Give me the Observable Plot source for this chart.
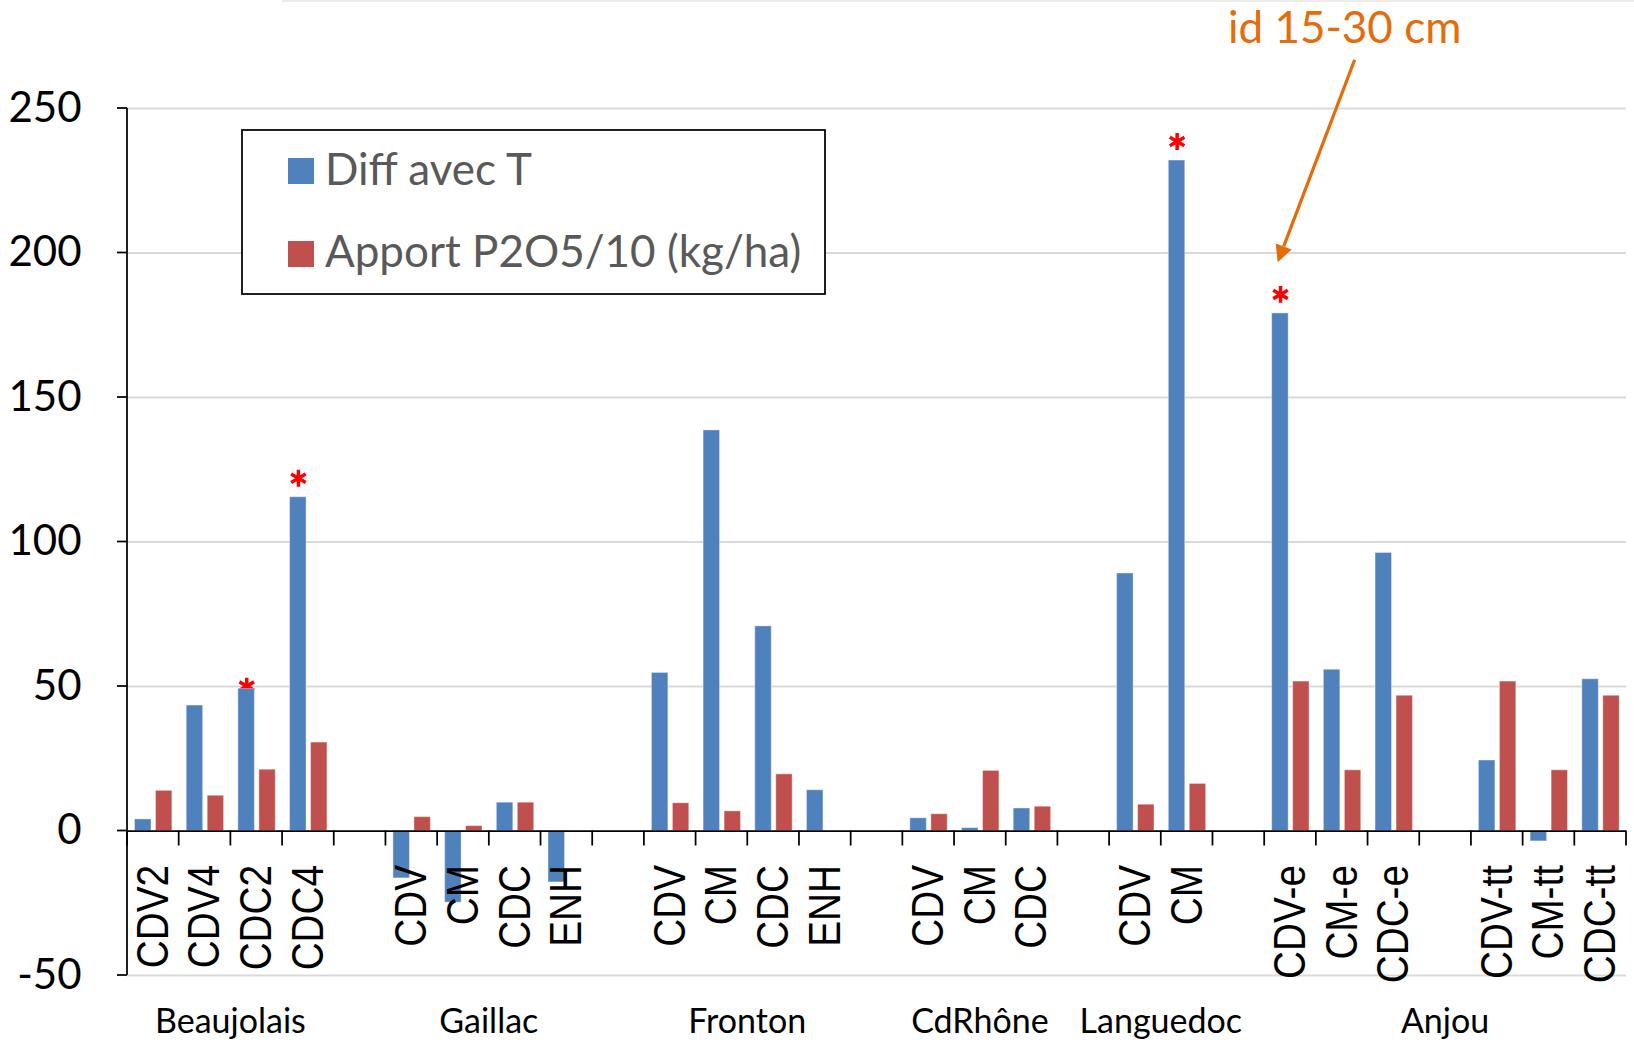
<!DOCTYPE html>
<html>
<head>
<meta charset="utf-8">
<script src="https://cdn.jsdelivr.net/npm/d3@7"></script>
<script src="https://cdn.jsdelivr.net/npm/@observablehq/plot@0.6"></script>
<style>
  html, body { margin: 0; padding: 0; background: #fff; }
  #chart svg { display: block; }
</style>
</head>
<body>
<div id="chart"></div>
<script>
// Sites and the treatments measured at each one ("" = empty slot)
const groups = ["Beaujolais", "Gaillac", "Fronton", "CdRhône", "Languedoc", "Anjou"];
const groupCategories = [
  ["CDV2", "CDV4", "CDC2", "CDC4"],
  ["CDV", "CM", "CDC", "ENH"],
  ["CDV", "CM", "CDC", "ENH"],
  ["CDV", "CM", "CDC"],
  ["CDV", "CM"],
  ["CDV-e", "CM-e", "CDC-e", "", "CDV-tt", "CM-tt", "CDC-tt"]
];

// Series, in the same order as the categories above
const seriesNames = ["Diff avec T", "Apport P2O5/10 (kg/ha)"];
const diffAvecT = [
  4.0, 43.4, 49.1, 115.5,
  -16.4, -24.8, 9.8, -17.8,
  54.7, 138.6, 70.8, 14.1,
  4.4, 1.0, 7.8,
  89.1, 232.0,
  179.1, 55.8, 96.2, null, 24.4, -3.6, 52.5
];
const apportP2O5 = [
  13.9, 12.2, 21.2, 30.6,
  4.8, 1.7, 9.8, null,
  9.6, 6.8, 19.6, null,
  5.8, 20.8, 8.4,
  9.1, 16.3,
  51.7, 21.0, 46.8, null, 51.7, 21.0, 46.8
];

// Treatments flagged as significant
const significant = [
  ["Beaujolais", "CDC2"],
  ["Beaujolais", "CDC4"],
  ["Languedoc", "CM"],
  ["Anjou", "CDV-e"]
];

const yTicks = [-50, 0, 50, 100, 150, 200, 250];
const annotationText = "id 15-30 cm";

// One band per slot, with an empty slot between sites
const slots = [];
let k = 0;
groups.forEach((group, gi) => {
  groupCategories[gi].forEach((label, ci) => {
    slots.push({key: `${gi}-${ci}`, label, group, diff: diffAvecT[k], apport: apportP2O5[k]});
    k++;
  });
  if (gi < groups.length - 1) slots.push({key: `gap-${gi}`, label: "", group: null, diff: null, apport: null});
});
const isSignificant = (s) => significant.some(([g, c]) => g === s.group && c === s.label);
const stars = slots.filter(isSignificant);
const hiddenStar = stars.filter((s) => s.label === "CDC2");
const raisedStars = stars.filter((s) => s.label !== "CDC2");

const BLUE = "#4F81BD", RED = "#C0504D", ORANGE = "#E46C0A";
const LABEL_FONT = "Lato, 'Open Sans', sans-serif";
const CAT_FONT = "'Liberation Sans', Arial, sans-serif";

// Axis lines, ticks and the site names under the axis
function axes(index, {x, y}, values, dims) {
  const g = d3.create("svg:g");
  const bw = x.bandwidth();
  const left = dims.marginLeft;
  g.append("line")
    .attr("x1", left).attr("x2", left)
    .attr("y1", y(yTicks[0])).attr("y2", y(yTicks[yTicks.length - 1]))
    .attr("stroke", "black").attr("stroke-width", 1.75);
  for (const t of yTicks) {
    g.append("line")
      .attr("x1", left - 10).attr("x2", left)
      .attr("y1", y(t)).attr("y2", y(t))
      .attr("stroke", "black").attr("stroke-width", 1.75);
  }
  const bounds = slots.map((s) => x(s.key));
  bounds.push(x(slots[slots.length - 1].key) + bw);
  for (const b of bounds) {
    g.append("line")
      .attr("x1", b).attr("x2", b)
      .attr("y1", y(0)).attr("y2", y(0) + 15)
      .attr("stroke", "black").attr("stroke-width", 1.75);
  }
  for (const group of groups) {
    const mine = slots.filter((s) => s.group === group);
    const cx = (x(mine[0].key) + x(mine[mine.length - 1].key) + bw) / 2;
    g.append("text")
      .attr("x", cx).attr("y", y(yTicks[0]) + 58)
      .attr("text-anchor", "middle")
      .attr("font-family", LABEL_FONT).attr("font-size", 34)
      .attr("fill", "black")
      .text(group);
  }
  return g.node();
}

// Boxed legend in the upper left of the plot area
function legend() {
  const g = d3.create("svg:g");
  g.append("rect")
    .attr("x", 242).attr("y", 130).attr("width", 583).attr("height", 164)
    .attr("fill", "white").attr("stroke", "black").attr("stroke-width", 1.75);
  [[BLUE, 158, 185], [RED, 241, 267]].forEach(([color, top, base], i) => {
    g.append("rect").attr("x", 288).attr("y", top).attr("width", 26).attr("height", 26).attr("fill", color);
    g.append("text")
      .attr("x", 325).attr("y", base)
      .attr("text-anchor", "start")
      .attr("font-family", LABEL_FONT).attr("font-size", 44)
      .attr("fill", "#595959")
      .text(seriesNames[i]);
  });
  return g.node();
}

// Orange note pointing at the Anjou CDV-e bar
function annotation(index, {x, y}) {
  const g = d3.create("svg:g");
  const target = slots.find((s) => s.group === "Anjou" && s.label === "CDV-e");
  const x0 = x(target.key);
  const tip = [x0 + 13.5, y(196.6)];
  const tail = [x0 + 90.5, y(266.7)];
  const dxv = tip[0] - tail[0], dyv = tip[1] - tail[1];
  const len = Math.hypot(dxv, dyv);
  const ux = dxv / len, uy = dyv / len;
  const head = 17, half = 8.5;
  const base = [tip[0] - head * ux, tip[1] - head * uy];
  g.append("line")
    .attr("x1", tail[0]).attr("y1", tail[1])
    .attr("x2", base[0]).attr("y2", base[1])
    .attr("stroke", ORANGE).attr("stroke-width", 3.25);
  g.append("path")
    .attr("d", `M${tip[0]},${tip[1]}L${base[0] - half * uy},${base[1] + half * ux}L${base[0] + half * uy},${base[1] - half * ux}Z`)
    .attr("fill", ORANGE);
  g.append("text")
    .attr("x", tail[0] - 10).attr("y", tail[1] - 17)
    .attr("text-anchor", "middle")
    .attr("font-family", LABEL_FONT).attr("font-size", 44)
    .attr("fill", ORANGE)
    .text(annotationText);
  return g.node();
}

// Faint edge along the top of the page
function topEdge(index, scales, values, dims) {
  const g = d3.create("svg:g");
  g.append("line")
    .attr("x1", 282).attr("x2", dims.width).attr("y1", 1).attr("y2", 1)
    .attr("stroke", "#ececec").attr("stroke-width", 2);
  return g.node();
}

const plot = Plot.plot({
  width: 1634,
  height: 1045,
  marginTop: 108,
  marginBottom: 70,
  marginLeft: 127,
  marginRight: 8,
  style: {fontFamily: LABEL_FONT, background: "white"},
  x: {domain: slots.map((s) => s.key), padding: 0, round: false, axis: null},
  y: {domain: [yTicks[0], yTicks[yTicks.length - 1]], axis: null},
  marks: [
    topEdge,
    Plot.ruleY(yTicks.filter((t) => t !== 0), {stroke: "#d9d9d9", strokeWidth: 2}),
    Plot.dot(raisedStars, {x: "key", y: "diff", symbol: "asterisk", r: 8, stroke: "#FF0000", strokeWidth: 3.5, dx: -10, dy: -19}),
    Plot.dot(hiddenStar, {x: "key", y: "diff", symbol: "asterisk", r: 8, stroke: "#FF0000", strokeWidth: 3.5, dx: -10, dy: -3}),
    Plot.barY(slots, {x: "key", y: "diff", fill: BLUE, stroke: "white", strokeOpacity: 0.4, strokeWidth: 1, insetLeft: 7.5, insetRight: 27.7}),
    Plot.barY(slots, {x: "key", y: "apport", fill: RED, stroke: "white", strokeOpacity: 0.4, strokeWidth: 1, insetLeft: 28.5, insetRight: 6.8}),
    Plot.ruleY([0], {stroke: "black", strokeWidth: 1.75}),
    axes,
    Plot.text(yTicks, {y: (d) => d, text: (d) => String(d), frameAnchor: "left", dx: -46, textAnchor: "end", fontSize: 42, fontFamily: LABEL_FONT, fill: "black"}),
    Plot.text(slots.filter((s) => s.label), {x: "key", y: 0, text: "label", rotate: -90, textAnchor: "end", dy: 34, fontSize: 45, fontFamily: CAT_FONT, fill: "black"}),
    legend,
    annotation
  ]
});

// Rotated treatment names are set slightly condensed along their length
d3.select(plot).selectAll("text")
  .filter(function () { return (this.getAttribute("transform") || "").includes("rotate(-90)"); })
  .attr("transform", function () { return this.getAttribute("transform") + " scale(0.86,1)"; });

document.getElementById("chart").appendChild(plot);
</script>
</body>
</html>
